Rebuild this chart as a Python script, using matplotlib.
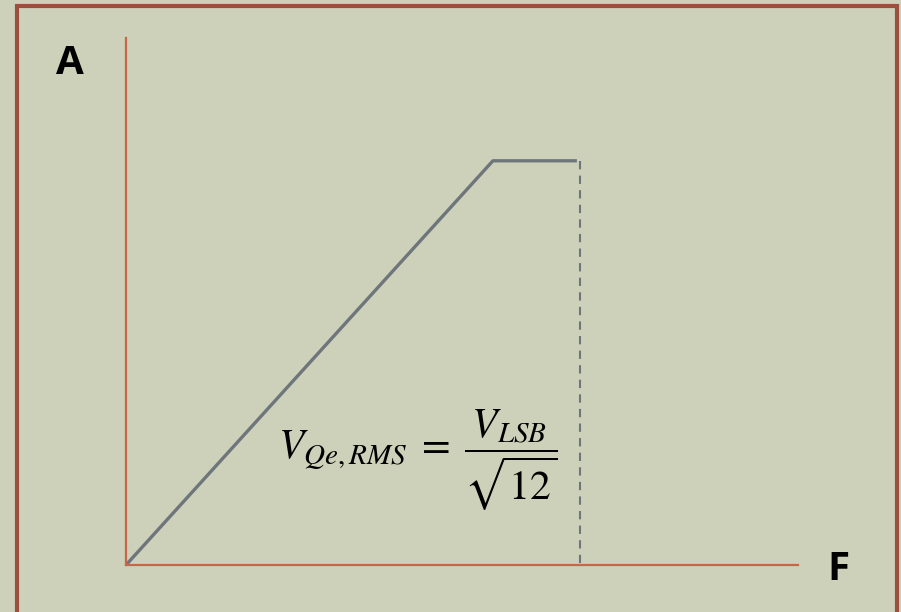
import numpy as np
import matplotlib
matplotlib.use('agg')
import matplotlib.pyplot as plt
from matplotlib.patches import Rectangle

# schematic response (axis units 0..10)
freq = [0.0, 5.46, 6.71]
amp = [0.0, 7.67, 7.67]
cutoff = 6.75

bg = '#CDD1B9'
border = '#9A503C'
axis_col = '#C9654B'
line_col = '#6E767B'

plt.rcParams['mathtext.fontset'] = 'stix'

fig = plt.figure(figsize=(9.01, 6.12), dpi=100, facecolor=bg)

# outer frame
fig.patches.append(Rectangle((17 / 901, -0.05), (897 - 17) / 901, 1.05 - 6 / 612,
                             transform=fig.transFigure, fill=False,
                             edgecolor=border, linewidth=3))

ax = fig.add_axes([126 / 901, (612 - 565) / 612, (798 - 126) / 901, (565 - 38) / 612])
ax.set_facecolor('none')
ax.set_xlim(0, 10)
ax.set_ylim(0, 10)
for s in ['top', 'right']:
    ax.spines[s].set_visible(False)
for s in ['left', 'bottom']:
    ax.spines[s].set_color(axis_col)
    ax.spines[s].set_linewidth(1.6)
ax.set_xticks([])
ax.set_yticks([])

ax.plot(freq, amp, color=line_col, lw=2.4, solid_capstyle='butt', clip_on=False)
ax.plot([cutoff, cutoff], [amp[-1], 0], color=line_col, lw=1.5,
        dashes=(4, 3), clip_on=False)

fig.text(70 / 901, 1 - 64 / 612, 'A', fontsize=29, fontweight='bold',
         family='Open Sans', ha='center', va='center')
fig.text(838 / 901, 1 - 570 / 612, 'F', fontsize=29, fontweight='bold',
         family='Open Sans', ha='center', va='center')

fig.text(418 / 901, 1 - 460 / 612, r'$V_{Qe,RMS}\;=\;\dfrac{V_{LSB}}{\sqrt{12}}$',
         fontsize=30, ha='center', va='center')

fig.savefig('out.png', dpi=100, facecolor=bg)
